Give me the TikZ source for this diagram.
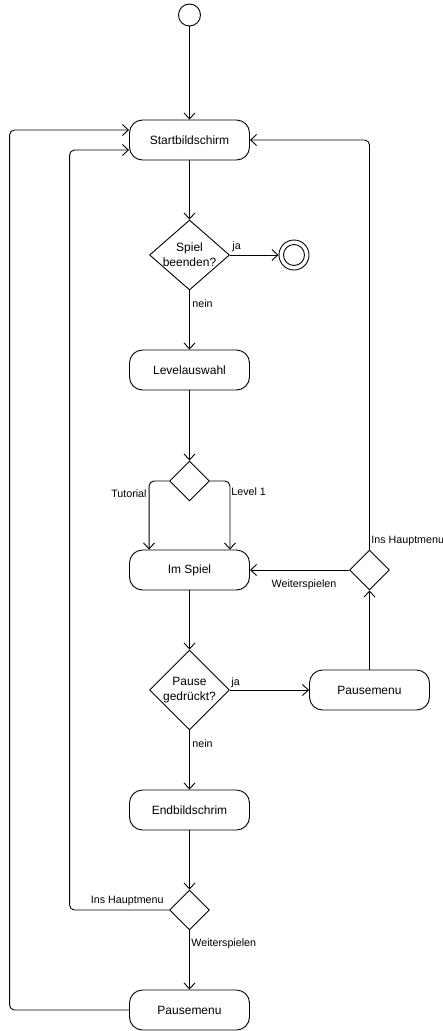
\documentclass[tikz,border=0pt]{standalone}
\usepackage{fontspec}
\setmainfont{Liberation Sans}
\usetikzlibrary{arrows.meta,shapes.geometric}
\begin{document}
\begin{tikzpicture}[x=1pt,y=-1pt,line width=0.9pt,
  act/.style={draw,rounded corners=13pt,minimum width=120pt,minimum height=40pt,inner sep=0pt,font=\fontsize{12}{15}\selectfont},
  dec/.style={draw,diamond,inner sep=0pt},
  dtext/.style={align=center,inner sep=0pt,font=\fontsize{12}{15}\selectfont},
  lbl/.style={inner sep=0pt,font=\fontsize{10.7}{13}\selectfont},
  flow/.style={-{Straight Barb[length=6pt,width=11pt,line width=0.9pt]},rounded corners=5pt}]
\useasboundingbox (0,0) rectangle (443,1031);
% nodes
\node[draw,circle,minimum size=22pt,inner sep=0pt] (start) at (189.5,15) {};
\node[act] (sb) at (189.5,140) {Startbildschirm};
\node[dec,minimum width=80pt,minimum height=70pt] (d1) at (189.5,255) {};
\node[dtext] (d1t) at (d1) {Spiel\\beenden?};
\node[draw,circle,minimum size=30pt,inner sep=0pt] (fin) at (294,255) {};
\node[draw,circle,minimum size=21pt,inner sep=0pt] (fini) at (fin) {};
\node[act] (lv) at (189.5,370) {Levelauswahl};
\node[dec,minimum width=40pt,minimum height=40pt] (d2) at (189.5,481) {};
\node[act] (is) at (189.5,570) {Im Spiel};
\node[dec,minimum width=80pt,minimum height=80pt] (d3) at (189.5,690) {};
\node[dtext] (d3t) at (d3) {Pause\\gedrückt?};
\node[act] (pm1) at (369.5,690) {Pausemenu};
\node[dec,minimum width=40pt,minimum height=40pt] (d4) at (369.5,570) {};
\node[act] (eb) at (189.5,810) {Endbildschrim};
\node[dec,minimum width=40pt,minimum height=40pt] (d5) at (189.5,910) {};
\node[act] (pm2) at (189.5,1010) {Pausemenu};
% edges
\draw[flow] (start) -- (sb);
\draw[flow] (sb) -- (d1);
\draw[flow] (d1.east) -- (fin.west);
\draw[flow] (d1.south) -- (lv.north);
\draw[flow] (lv) -- (d2);
\draw[flow] (d2.west) -| ([xshift=20pt]is.north west);
\draw[flow] (d2.east) -| ([xshift=-20pt]is.north east);
\draw[flow] (is) -- (d3);
\draw[flow] (d3.east) -- (pm1.west);
\draw[flow] (d3.south) -- (eb.north);
\draw[flow] (pm1.north) -- (d4.south);
\draw[flow] (d4.west) -- (is.east);
\draw[flow] (d4.north) |- (sb.east);
\draw[flow] (eb) -- (d5);
\draw[flow] (d5.south) -- (pm2.north);
\draw[flow] (d5.west) -| ([xshift=-59.5pt,yshift=-10pt]sb.west) -- ([yshift=-10pt]sb.west);
\draw[flow] (pm2.west) -| ([xshift=-119.5pt,yshift=10pt]sb.west) -- ([yshift=10pt]sb.west);
% labels
\node[lbl,anchor=west] (l1) at (232,247) {ja};
\node[lbl,anchor=west] (l2) at (192,304) {nein};
\node[lbl,anchor=east] (l3) at (147,494) {Tutorial};
\node[lbl,anchor=west] (l4) at (231,492) {Level 1};
\node[lbl] (l5) at (304,585) {Weiterspielen};
\node[lbl,anchor=west] (l6) at (371,541) {Ins Hauptmenu};
\node[lbl,anchor=west] (l7) at (231,683) {ja};
\node[lbl,anchor=west] (l8) at (192,744) {nein};
\node[lbl,anchor=east] (l9) at (164,901) {Ins Hauptmenu};
\node[lbl,anchor=west] (l10) at (191,944) {Weiterspielen};
\end{tikzpicture}
\end{document}
